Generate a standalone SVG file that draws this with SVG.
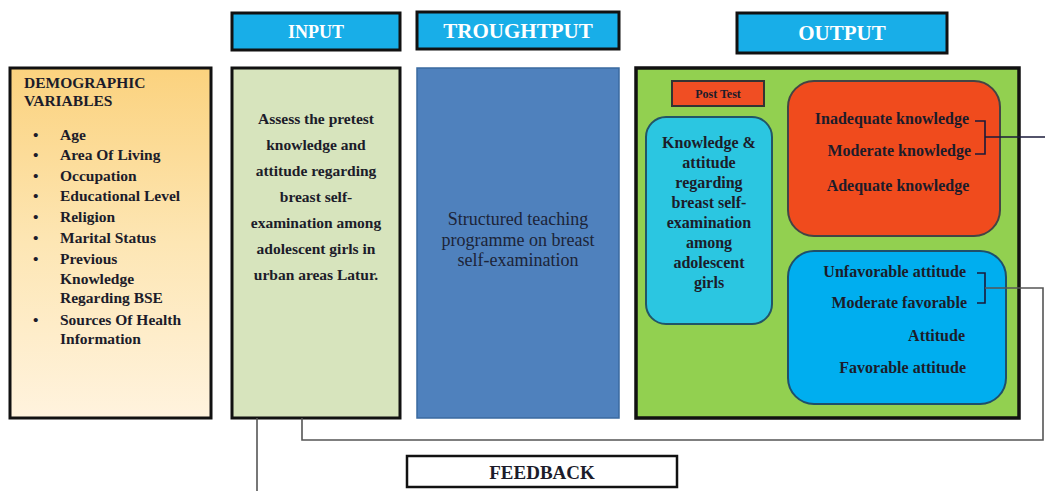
<svg xmlns="http://www.w3.org/2000/svg" width="1045" height="491" viewBox="0 0 1045 491">
<defs>
<linearGradient id="demo" x1="0" y1="0" x2="0" y2="1">
<stop offset="0" stop-color="#fbd27e"/>
<stop offset="0.5" stop-color="#fde6b4"/>
<stop offset="1" stop-color="#fff3de"/>
</linearGradient>
<style>
.hdr{fill:#18aee8;stroke:#111;stroke-width:3}
.hdrt{font-family:"Liberation Serif",serif;font-weight:bold;fill:#ffffff;text-anchor:middle}
.t{font-family:"Liberation Serif",serif;font-weight:bold;fill:#1c1c2a}
.c{text-anchor:middle}
.e{text-anchor:end}
.ln{fill:none;stroke:#555;stroke-width:1.6}
.br{fill:none;stroke:#1a1a3a;stroke-width:1.6}
</style>
</defs>
<rect width="1045" height="491" fill="#ffffff"/>

<g id="input-header">
<rect class="hdr" x="232" y="13" width="168" height="37"/>
<text class="hdrt" x="316" y="38" font-size="18">INPUT</text>
</g>
<g id="throughput-header">
<rect class="hdr" x="417" y="12" width="202" height="37"/>
<text class="hdrt" x="518" y="38" font-size="21">TROUGHTPUT</text>
</g>
<g id="output-header">
<rect class="hdr" x="737" y="13" width="210" height="40"/>
<text class="hdrt" x="842" y="40" font-size="21">OUTPUT</text>
</g>

<g id="demographic">
<rect x="10" y="68" width="201" height="350" fill="url(#demo)" stroke="#111" stroke-width="3"/>
<g class="t" font-size="15.5">
<text x="24" y="88">DEMOGRAPHIC</text>
<text x="24" y="106">VARIABLES</text>
<text x="33" y="140">•</text><text x="60" y="140">Age</text>
<text x="33" y="160">•</text><text x="60" y="160">Area Of Living</text>
<text x="33" y="181">•</text><text x="60" y="181">Occupation</text>
<text x="33" y="201">•</text><text x="60" y="201">Educational Level</text>
<text x="33" y="222">•</text><text x="60" y="222">Religion</text>
<text x="33" y="243">•</text><text x="60" y="243">Marital Status</text>
<text x="33" y="264">•</text><text x="60" y="264">Previous</text>
<text x="60" y="284">Knowledge</text>
<text x="60" y="303">Regarding BSE</text>
<text x="33" y="325">•</text><text x="60" y="325">Sources Of Health</text>
<text x="60" y="344">Information</text>
</g>
</g>

<g id="input">
<rect x="232" y="68" width="168" height="350" fill="#d7e4bd" stroke="#111" stroke-width="3"/>
<g class="t c" font-size="15.5">
<text x="316" y="124">Assess the pretest</text>
<text x="316" y="150">knowledge and</text>
<text x="316" y="176">attitude regarding</text>
<text x="316" y="202">breast self-</text>
<text x="316" y="228">examination among</text>
<text x="316" y="254">adolescent girls in</text>
<text x="316" y="280">urban areas Latur.</text>
</g>
</g>

<g id="throughput">
<rect x="417" y="68" width="202" height="350" fill="#4f81bd" stroke="#3a6aa0" stroke-width="1.5"/>
<g font-family="Liberation Serif,serif" font-size="18" fill="#1c2438" text-anchor="middle">
<text x="518" y="225">Structured teaching</text>
<text x="518" y="246">programme on breast</text>
<text x="518" y="266">self-examination</text>
</g>
</g>

<g id="output">
<rect x="636" y="68" width="383" height="350" fill="#92d050" stroke="#111" stroke-width="3.5"/>
</g>

<g id="post-test">
<rect x="672" y="81" width="92" height="25" fill="#f04e23" stroke="#333" stroke-width="2"/>
<text class="t c" x="718" y="98" font-size="12">Post Test</text>
</g>

<g id="knowledge-attitude">
<rect x="646" y="117" width="126" height="207" rx="20" fill="#2bc6e1" stroke="#225566" stroke-width="2"/>
<g class="t c" font-size="16">
<text x="709" y="148">Knowledge &amp;</text>
<text x="709" y="168">attitude</text>
<text x="709" y="188">regarding</text>
<text x="709" y="208">breast self-</text>
<text x="709" y="228">examination</text>
<text x="709" y="248">among</text>
<text x="709" y="268">adolescent</text>
<text x="709" y="288">girls</text>
</g>
</g>

<g id="knowledge-levels">
<rect x="788" y="81" width="212" height="155" rx="26" fill="#f04b1d" stroke="#444" stroke-width="2"/>
<g class="t" font-size="16">
<text class="e" x="969" y="124">Inadequate knowledge</text>
<text class="e" x="971" y="156">Moderate knowledge</text>
<text class="c" x="898" y="191">Adequate knowledge</text>
</g>
</g>

<g id="attitude-levels">
<rect x="788" y="251" width="218" height="153" rx="26" fill="#00aeef" stroke="#1f4f6a" stroke-width="2"/>
<g class="t" font-size="16">
<text class="e" x="966" y="277">Unfavorable attitude</text>
<text class="e" x="967" y="308">Moderate favorable</text>
<text class="e" x="965" y="341">Attitude</text>
<text class="e" x="966" y="373">Favorable attitude</text>
</g>
</g>

<g id="feedback">
<rect x="407" y="456" width="270" height="31" fill="#ffffff" stroke="#111" stroke-width="2.5"/>
<text class="t c" x="542" y="479" font-size="19">FEEDBACK</text>
</g>

<g id="connectors">
<path class="br" d="M975 121 H985 V154 H975"/>
<path class="br" d="M985 137 H1045"/>
<path class="br" d="M977 273 H985 V303 H977"/>
<path class="ln" d="M985 288 H1043 V440 H302 V418"/>
<path class="ln" d="M257 418 V491"/>
</g>
</svg>
